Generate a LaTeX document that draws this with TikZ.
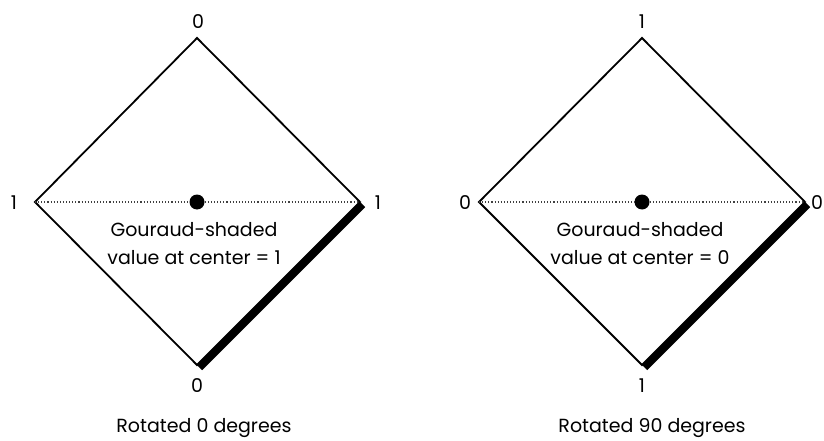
\documentclass[tikz,border=0pt]{standalone}
\usepackage{fontspec}
\setmainfont{Poppins}
\usetikzlibrary{calc}
\begin{document}
\begin{tikzpicture}[x=1pt,y=-1pt,
  edge/.style={line width=1.8pt,line join=miter},
  heavy/.style={line width=7.5pt},
  mid/.style={dotted,line width=1.1pt,black!75},
  lab/.style={inner sep=0pt,font=\fontsize{19}{23}\selectfont},
  centertext/.style={inner sep=0pt,font=\fontsize{19}{28}\selectfont,align=center}]
\useasboundingbox (0,0) rectangle (824,441);
% left diamond
\coordinate (aT) at (197,38);
\coordinate (aL) at (35,202);
\coordinate (aR) at (360,202);
\coordinate (aB) at (197,365);
\node[circle,fill=black,inner sep=0pt,minimum width=14pt,minimum height=15pt] (aC) at (197,202) {};
\draw[edge] (aT) -- (aR) -- (aB) -- (aL) -- cycle;
\draw[mid] (aL) -- (aC) -- (aR);
\draw[heavy] ($(aR)+(2.5,2.5)$) -- ($(aB)+(2.5,2.5)$);
\node[lab] (aTl) at (198,22) {0};
\node[lab] (aLl) at (14,203) {1};
\node[lab] (aRl) at (378,203) {1};
\node[lab] (aBl) at (197,386) {0};
\node[centertext] (aTxt) at (194,244) {Gouraud-shaded\\value at center = 1};
\node[lab] (aCap) at (204,428) {Rotated 0 degrees};
% right diamond
\coordinate (bT) at (642,38);
\coordinate (bL) at (479,202);
\coordinate (bR) at (805,202);
\coordinate (bB) at (642,365);
\node[circle,fill=black,inner sep=0pt,minimum width=14pt,minimum height=15pt] (bC) at (642,202) {};
\draw[edge] (bT) -- (bR) -- (bB) -- (bL) -- cycle;
\draw[mid] (bL) -- (bC) -- (bR);
\draw[heavy] ($(bR)+(2.5,2.5)$) -- ($(bB)+(2.5,2.5)$);
\node[lab] (bTl) at (642,22) {1};
\node[lab] (bLl) at (465,203) {0};
\node[lab] (bRl) at (817,203) {0};
\node[lab] (bBl) at (642,386) {1};
\node[centertext] (bTxt) at (640,244) {Gouraud-shaded\\value at center = 0};
\node[lab] (bCap) at (652,428) {Rotated 90 degrees};
\end{tikzpicture}
\end{document}
